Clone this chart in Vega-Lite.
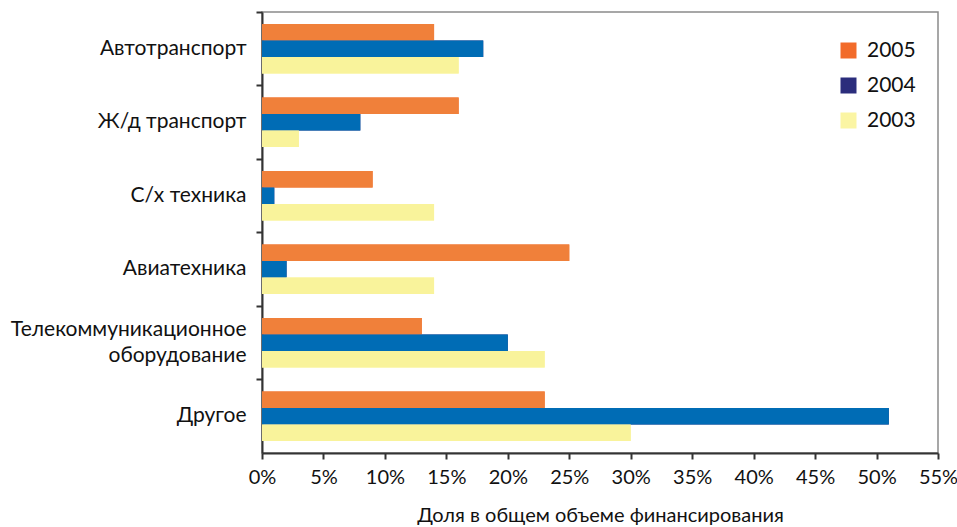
{
  "$schema": "https://vega.github.io/schema/vega-lite/v6.json",
  "width": 676,
  "height": 441,
  "autosize": {"type": "none"},
  "padding": {"left": 262, "top": 12, "right": 19, "bottom": 74},
  "background": "white",
  "config": {
    "font": "Lato",
    "view": {"stroke": "#8a8a8a", "strokeWidth": 1.5}
  },
  "data": {
    "values": [
      {"cat": "Автотранспорт", "year": "2005", "ord": 0, "v": 14},
      {"cat": "Автотранспорт", "year": "2004", "ord": 1, "v": 18},
      {"cat": "Автотранспорт", "year": "2003", "ord": 2, "v": 16},
      {"cat": "Ж/д транспорт", "year": "2005", "ord": 0, "v": 16},
      {"cat": "Ж/д транспорт", "year": "2004", "ord": 1, "v": 8},
      {"cat": "Ж/д транспорт", "year": "2003", "ord": 2, "v": 3},
      {"cat": "С/х техника", "year": "2005", "ord": 0, "v": 9},
      {"cat": "С/х техника", "year": "2004", "ord": 1, "v": 1},
      {"cat": "С/х техника", "year": "2003", "ord": 2, "v": 14},
      {"cat": "Авиатехника", "year": "2005", "ord": 0, "v": 25},
      {"cat": "Авиатехника", "year": "2004", "ord": 1, "v": 2},
      {"cat": "Авиатехника", "year": "2003", "ord": 2, "v": 14},
      {"cat": "Телекоммуникационное оборудование", "year": "2005", "ord": 0, "v": 13},
      {"cat": "Телекоммуникационное оборудование", "year": "2004", "ord": 1, "v": 20},
      {"cat": "Телекоммуникационное оборудование", "year": "2003", "ord": 2, "v": 23},
      {"cat": "Другое", "year": "2005", "ord": 0, "v": 23},
      {"cat": "Другое", "year": "2004", "ord": 1, "v": 51},
      {"cat": "Другое", "year": "2003", "ord": 2, "v": 30}
    ]
  },
  "encoding": {
    "y": {
      "field": "cat",
      "type": "nominal",
      "sort": ["Автотранспорт", "Ж/д транспорт", "С/х техника", "Авиатехника", "Телекоммуникационное оборудование", "Другое"],
      "scale": {"paddingInner": 0, "paddingOuter": 0},
      "axis": {
        "title": null,
        "bandPosition": 0,
        "labelExpr": "datum.label == 'Телекоммуникационное оборудование' ? ['Телекоммуникационное', 'оборудование'] : datum.label",
        "labelOffset": {"condition": {"test": "datum.value == 'Телекоммуникационное оборудование'", "value": -13}, "value": 0},
        "labelFontSize": 21,
        "labelColor": "#111",
        "labelPadding": 10,
        "labelLimit": 300,
        "labelLineHeight": 26,
        "domainColor": "#333",
        "domainWidth": 2,
        "tickColor": "#333",
        "tickWidth": 2,
        "tickSize": 6,
        "grid": false
      }
    },
    "yOffset": {
      "field": "ord",
      "type": "ordinal",
      "scale": {"paddingInner": 0, "paddingOuter": 0.73}
    },
    "x": {
      "field": "v",
      "type": "quantitative",
      "scale": {"domain": [0, 55], "nice": false},
      "axis": {
        "title": "Доля в общем объеме финансирования",
        "titleFontSize": 20,
        "titleFontWeight": "normal",
        "titleColor": "#111",
        "titlePadding": 18,
        "values": [0, 5, 10, 15, 20, 25, 30, 35, 40, 45, 50, 55],
        "labelExpr": "datum.value + '%'",
        "labelFontSize": 20,
        "labelColor": "#111",
        "labelPadding": 8,
        "labelFlush": false,
        "domainColor": "#333",
        "domainWidth": 2,
        "tickColor": "#333",
        "tickWidth": 2,
        "tickSize": 6,
        "grid": false
      }
    }
  },
  "layer": [
    {
      "mark": {"type": "bar"},
      "encoding": {
        "color": {
          "field": "year",
          "type": "nominal",
          "scale": {"domain": ["2005", "2004", "2003"], "range": ["#F26B2A", "#2B2D7C", "#FBF5A3"]},
          "legend": {
            "title": null,
            "orient": "none",
            "legendX": 576,
            "legendY": 28,
            "symbolType": "square",
            "symbolSize": 256,
            "symbolStrokeWidth": 0,
            "symbolOpacity": 1,
            "labelFontSize": 21,
            "labelColor": "#111",
            "labelOffset": 8,
            "rowPadding": 13
          }
        }
      }
    },
    {
      "mark": {"type": "bar"},
      "encoding": {
        "color": {
          "field": "year",
          "type": "nominal",
          "scale": {"domain": ["2005", "2004", "2003"], "range": ["#F0803A", "#006CB5", "#F9F39B"]},
          "legend": null
        }
      }
    }
  ],
  "resolve": {"scale": {"color": "independent"}}
}
